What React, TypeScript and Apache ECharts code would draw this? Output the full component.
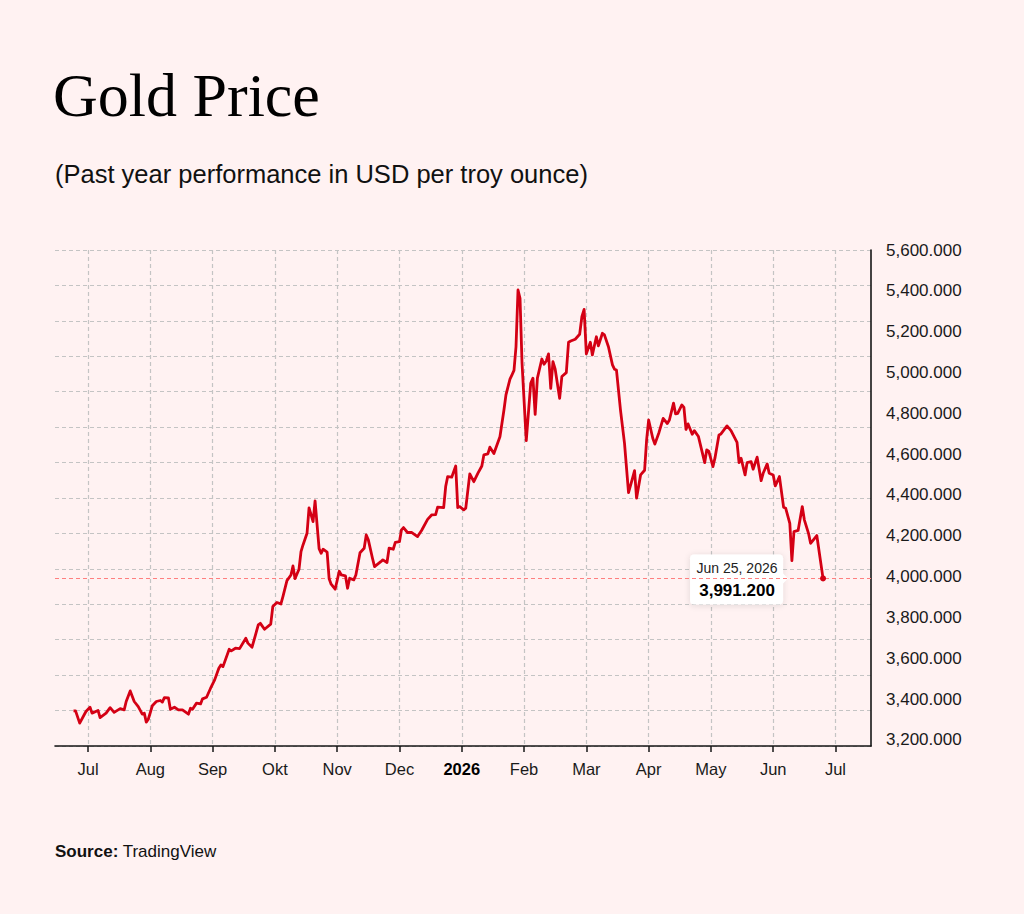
import React, { useEffect, useRef } from 'react';
import * as echarts from 'echarts';

// trading days (Jun 2025 - Jun 2026)
const dates = [
  '2025-06-24', '2025-06-25', '2025-06-27', '2025-06-30',
  '2025-07-02', '2025-07-03', '2025-07-06', '2025-07-07', '2025-07-10', '2025-07-12', '2025-07-14', '2025-07-17',
  '2025-07-19', '2025-07-20', '2025-07-22', '2025-07-24', '2025-07-26', '2025-07-28', '2025-07-29', '2025-07-30', '2025-07-31',
  '2025-08-02', '2025-08-04', '2025-08-06', '2025-08-07', '2025-08-08', '2025-08-10', '2025-08-11', '2025-08-13', '2025-08-15',
  '2025-08-17', '2025-08-20', '2025-08-21', '2025-08-22', '2025-08-24', '2025-08-26', '2025-08-27', '2025-08-29', '2025-08-31',
  '2025-09-02', '2025-09-04', '2025-09-05', '2025-09-06', '2025-09-09', '2025-09-10', '2025-09-12', '2025-09-14',
  '2025-09-17', '2025-09-18', '2025-09-20', '2025-09-23', '2025-09-24', '2025-09-26', '2025-09-29', '2025-09-30',
  '2025-10-02', '2025-10-04', '2025-10-05', '2025-10-07', '2025-10-09', '2025-10-10', '2025-10-11', '2025-10-13', '2025-10-14',
  '2025-10-15', '2025-10-17', '2025-10-18', '2025-10-20', '2025-10-21', '2025-10-23', '2025-10-24', '2025-10-25', '2025-10-27',
  '2025-10-28', '2025-10-29', '2025-10-31',
  '2025-11-02', '2025-11-03', '2025-11-05', '2025-11-06', '2025-11-07', '2025-11-09', '2025-11-10', '2025-11-12', '2025-11-14',
  '2025-11-15', '2025-11-16', '2025-11-18', '2025-11-19', '2025-11-22', '2025-11-23', '2025-11-25', '2025-11-26', '2025-11-28', '2025-11-29',
  '2025-12-01', '2025-12-02', '2025-12-03', '2025-12-05', '2025-12-07', '2025-12-10', '2025-12-12', '2025-12-15', '2025-12-17',
  '2025-12-19', '2025-12-20', '2025-12-23', '2025-12-24', '2025-12-25', '2025-12-27', '2025-12-29', '2025-12-30', '2025-12-31',
  '2026-01-02', '2026-01-03', '2026-01-05', '2026-01-07', '2026-01-09', '2026-01-11', '2026-01-12', '2026-01-14', '2026-01-15',
  '2026-01-17', '2026-01-20', '2026-01-22', '2026-01-23', '2026-01-25', '2026-01-26', '2026-01-27', '2026-01-28', '2026-01-29',
  '2026-01-30', '2026-01-31',
  '2026-02-02', '2026-02-04', '2026-02-05', '2026-02-06', '2026-02-07', '2026-02-09', '2026-02-10', '2026-02-11', '2026-02-12',
  '2026-02-13', '2026-02-14', '2026-02-15', '2026-02-17', '2026-02-18', '2026-02-20', '2026-02-21', '2026-02-22', '2026-02-24',
  '2026-02-26', '2026-02-27', '2026-02-28',
  '2026-03-01', '2026-03-03', '2026-03-04', '2026-03-06', '2026-03-07', '2026-03-09', '2026-03-10', '2026-03-12', '2026-03-14',
  '2026-03-15', '2026-03-16', '2026-03-18', '2026-03-20', '2026-03-22', '2026-03-24', '2026-03-25', '2026-03-26', '2026-03-28',
  '2026-03-30', '2026-03-31',
  '2026-04-01', '2026-04-03', '2026-04-04', '2026-04-06', '2026-04-08', '2026-04-10', '2026-04-11', '2026-04-13', '2026-04-14',
  '2026-04-15', '2026-04-17', '2026-04-18', '2026-04-19', '2026-04-20', '2026-04-22', '2026-04-23', '2026-04-25', '2026-04-28',
  '2026-04-29', '2026-04-30',
  '2026-05-02', '2026-05-03', '2026-05-05', '2026-05-06', '2026-05-09', '2026-05-11', '2026-05-14', '2026-05-15', '2026-05-16',
  '2026-05-18', '2026-05-19', '2026-05-21', '2026-05-22', '2026-05-24', '2026-05-26', '2026-05-27', '2026-05-29', '2026-05-30',
  '2026-06-01', '2026-06-02', '2026-06-04', '2026-06-06', '2026-06-07', '2026-06-09', '2026-06-10', '2026-06-11', '2026-06-13',
  '2026-06-15', '2026-06-16', '2026-06-18', '2026-06-19', '2026-06-22', '2026-06-25',
];

const prices = [
  3342, 3342, 3282, 3339,
  3360, 3331, 3344, 3309, 3331, 3358, 3335, 3353,
  3347, 3388, 3440, 3388, 3363, 3326, 3331, 3287, 3301,
  3367, 3388, 3393, 3385, 3407, 3406, 3350, 3360, 3347,
  3347, 3326, 3355, 3350, 3380, 3376, 3401, 3409, 3453,
  3494, 3551, 3567, 3559, 3644, 3636, 3649, 3647,
  3698, 3674, 3654, 3763, 3771, 3742, 3767, 3853,
  3873, 3866, 3902, 3980, 4008, 4052, 3990, 4036, 4122,
  4155, 4212, 4337, 4269, 4371, 4137, 4114, 4134, 4120,
  3989, 3963, 3938,
  4026, 4008, 4003, 3943, 3992, 3984, 4008, 4117, 4139,
  4204, 4180, 4090, 4049, 4073, 4082, 4069, 4139, 4134, 4168,
  4171, 4229, 4240, 4216, 4217, 4196, 4226, 4280, 4302,
  4304, 4340, 4338, 4441, 4490, 4487, 4542, 4338, 4343,
  4327, 4335, 4503, 4465, 4506, 4542, 4596, 4601, 4634,
  4603, 4685, 4816, 4890, 4967, 4988, 5010, 5126, 5404,
  5363, 5045,
  4666, 4947, 4972, 4795, 4972, 5066, 5040, 5056, 5091,
  4922, 5053, 5016, 4873, 4980, 4999, 5148, 5154, 5163,
  5187, 5273, 5309,
  5091, 5148, 5086, 5175, 5130, 5192, 5184, 5126, 5037,
  5016, 5012, 4816, 4653, 4411, 4482, 4519, 4384, 4498,
  4521, 4670,
  4767, 4678, 4649, 4706, 4775, 4750, 4767, 4850, 4797,
  4800, 4841, 4829, 4721, 4748, 4697, 4715, 4686, 4558,
  4621, 4613,
  4539, 4580, 4694, 4699, 4738, 4715, 4657, 4558, 4580,
  4498, 4558, 4563, 4526, 4585, 4470, 4506, 4552, 4506,
  4498, 4444, 4490, 4340, 4335, 4261, 4078, 4220, 4226,
  4343, 4278, 4212, 4163, 4201, 3991.2,
];

const monthLabels = ['Jul', 'Aug', 'Sep', 'Okt', 'Nov', 'Dec', '2026', 'Feb', 'Mar', 'Apr', 'May', 'Jun', 'Jul'];
const priceTicks = [3200, 3400, 3600, 3800, 4000, 4200, 4400, 4600, 4800, 5000, 5200, 5400, 5600];
const gridRows = 14;
const lastLabel = 'Jun 25, 2026';

const RED = '#d40014';
const GRID = '#c4c4c4';
const INK = '#161616';
const SANS = '"Liberation Sans", Arial, Helvetica, sans-serif';

// months are spaced evenly on the axis; Jul 2025 = 0
const toMonthPos = (d: string) => {
  const [y, m, day] = d.split('-').map(Number);
  const dim = new Date(y, m, 0).getDate();
  return (y - 2025) * 12 + (m - 7) + (day - 1) / dim;
};

const fmt = (v: number) => {
  const [i, f] = v.toFixed(3).split('.');
  return i.replace(/\B(?=(\d{3})+(?!\d))/g, ',') + '.' + f;
};

const App: React.FC = () => {
  const chartRef = useRef<HTMLDivElement | null>(null);

  useEffect(() => {
    let chart: echarts.ECharts | null = null;
    if (chartRef.current) {
      chart = echarts.init(chartRef.current, null, { renderer: 'svg' });

      const seriesData = dates.map((d, i) => [toMonthPos(d), prices[i]]);
      const last = seriesData[seriesData.length - 1];
      const monthPos = monthLabels.map((_, i) => i);
      const gridLine = { show: true, lineStyle: { color: GRID, type: [4, 3], width: 1.2 } };

      const option = {
        animation: false,
        backgroundColor: '#fff2f2',
        textStyle: { fontFamily: SANS },
        title: [
          {
            text: 'Gold Price',
            left: 53,
            top: 64,
            padding: 0,
            textStyle: { fontFamily: '"Liberation Serif", "Times New Roman", serif', fontSize: 62, fontWeight: 'normal', color: '#000' },
          },
          {
            text: '(Past year performance in USD per troy ounce)',
            left: 55,
            top: 161,
            padding: 0,
            textStyle: { fontFamily: SANS, fontSize: 25.5, fontWeight: 'normal', color: '#111' },
          },
          {
            text: '{b|Source:} TradingView',
            left: 55,
            top: 843,
            padding: 0,
            textStyle: {
              fontFamily: SANS,
              fontSize: 17,
              fontWeight: 'normal',
              color: '#111',
              rich: { b: { fontFamily: SANS, fontSize: 17, fontWeight: 'bold', color: '#111' } },
            },
          },
        ],
        grid: { left: 55, right: 153, top: 250, bottom: 168, containLabel: false, outerBoundsMode: 'none' },
        xAxis: {
          type: 'value',
          min: -0.53,
          max: 12.57,
          axisLine: { show: true, onZero: false, lineStyle: { color: INK, width: 1.6 } },
          axisTick: { show: true, length: 6, customValues: monthPos, lineStyle: { color: INK, width: 1.5 } },
          axisLabel: {
            customValues: monthPos,
            margin: 14,
            fontSize: 16.5,
            color: '#1a1a1a',
            fontFamily: SANS,
            formatter: (v: number) => {
              const s = monthLabels[Math.round(v)] ?? '';
              return s === '2026' ? '{y|2026}' : s;
            },
            rich: { y: { fontFamily: SANS, fontSize: 16.5, fontWeight: 'bold', color: '#000' } },
          },
          splitLine: gridLine,
        },
        yAxis: [
          {
            type: 'value',
            position: 'right',
            min: 3170,
            max: 5600,
            axisLine: { show: true, onZero: false, lineStyle: { color: INK, width: 1.6 } },
            axisTick: { show: false },
            axisLabel: { customValues: priceTicks, formatter: fmt, margin: 15, fontSize: 17, color: '#1a1a1a', fontFamily: SANS },
            splitLine: { show: false },
          },
          {
            type: 'value',
            position: 'left',
            min: 0,
            max: gridRows,
            interval: 1,
            axisLine: { show: false, onZero: false },
            axisTick: { show: false },
            axisLabel: { show: false },
            splitLine: gridLine,
          },
        ],
        series: [
          {
            type: 'line',
            xAxisIndex: 0,
            yAxisIndex: 0,
            data: seriesData,
            showSymbol: false,
            lineStyle: { color: RED, width: 2.8, join: 'round' },
            itemStyle: { color: RED },
            z: 5,
            markLine: {
              silent: true,
              symbol: 'none',
              label: { show: false },
              lineStyle: { color: '#ff7f7f', type: [4, 3], width: 1 },
              data: [{ yAxis: last[1] }],
            },
            markPoint: {
              silent: true,
              data: [
                {
                  coord: last,
                  symbol: 'circle',
                  symbolSize: 6,
                  itemStyle: { color: RED },
                  label: { show: false },
                },
              ],
            },
          },
        ],
      };

      chart.setOption(option);

      // value box next to the last point
      const p = chart.convertToPixel({ xAxisIndex: 0, yAxisIndex: 0 }, last) as number[];
      chart.setOption({
        graphic: [
          {
            type: 'group',
            x: p[0],
            y: p[1],
            z: 100,
            children: [
              {
                type: 'rect',
                shape: { x: -133, y: -24, width: 93, height: 50, r: 4 },
                style: { fill: '#fff', shadowBlur: 6, shadowOffsetY: 1, shadowColor: 'rgba(0,0,0,0.12)' },
              },
              {
                type: 'polygon',
                shape: { points: [[-41, -6], [-35, 0], [-41, 6]] },
                style: { fill: '#fff' },
              },
              {
                type: 'text',
                x: -86,
                y: -10,
                style: { text: lastLabel, fontFamily: SANS, fontSize: 14, fill: '#222', align: 'center', verticalAlign: 'middle' },
              },
              {
                type: 'text',
                x: -86,
                y: 12,
                style: { text: fmt(last[1]), fontFamily: SANS, fontSize: 17, fontWeight: 'bold', fill: '#000', align: 'center', verticalAlign: 'middle' },
              },
            ],
          },
        ],
      });
    }

    return () => {
      chart?.dispose();
    };
  }, []);

  return <div ref={chartRef} style={{ position: 'fixed', left: 0, top: 0, width: 1024, height: 914 }}></div>;
};

export default App;
